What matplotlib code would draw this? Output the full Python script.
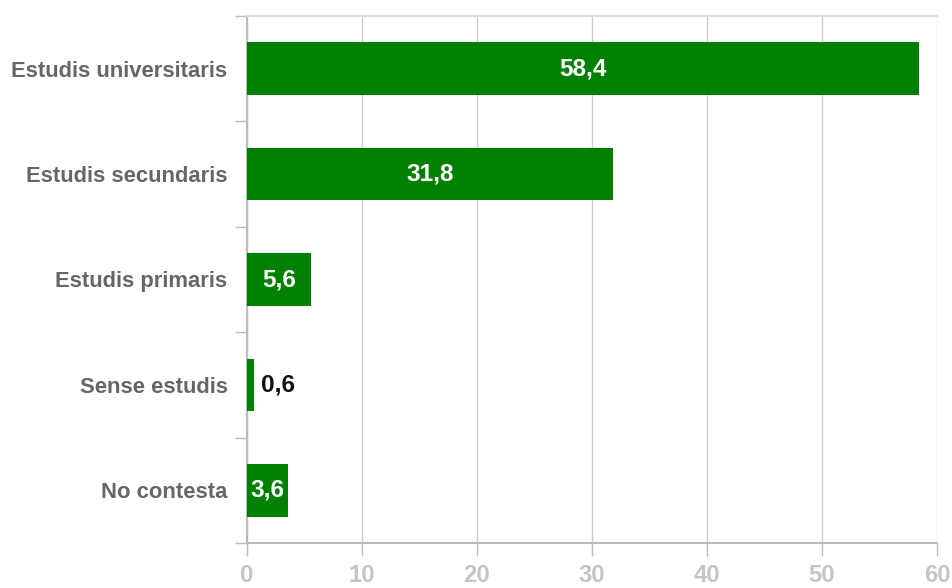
import matplotlib
matplotlib.use("Agg")
import matplotlib.pyplot as plt
import numpy as np

categories = ["Estudis universitaris", "Estudis secundaris", "Estudis primaris", "Sense estudis", "No contesta"]
values = [58.4, 31.8, 5.6, 0.6, 3.6]
value_labels = ["58,4", "31,8", "5,6", "0,6", "3,6"]
xticks = [0, 10, 20, 30, 40, 50, 60]

plt.rcParams['font.family'] = ['Liberation Sans', 'DejaVu Sans']

fig = plt.figure(figsize=(9.53, 5.88), dpi=100)
ax = fig.add_axes([247/953, 1-543/588, (937-247)/953, (543-16)/588])

n = len(categories)
ypos = np.arange(n)[::-1]
ax.barh(ypos, values, height=0.5, color="#008000", zorder=3)

ax.set_xlim(0, 60)
ax.set_ylim(-0.5, n-0.5)
ax.set_xticks(xticks)
ax.set_xticklabels([str(t) for t in xticks], fontsize=17.2, fontweight='bold', color="#c4c4c4")
ax.tick_params(axis='x', length=9, width=1, color="#bbbbbb", pad=6)

ax.set_yticks(ypos)
ax.set_yticklabels(categories, fontsize=15.8, fontweight='bold', color="#666666")
ax.tick_params(axis='y', which='major', length=0, pad=14)
ax.set_yticks(np.arange(n+1) - 0.5, minor=True)
ax.tick_params(axis='y', which='minor', length=9, width=1, color="#bbbbbb")

ax.grid(axis='x', color="#cccccc", linewidth=1, zorder=0)
ax.set_axisbelow(True)

for s in ['left', 'bottom']:
    ax.spines[s].set_color("#bbbbbb")
    ax.spines[s].set_linewidth(1.5)
ax.spines['top'].set_color("#dddddd")
ax.spines['top'].set_linewidth(1.5)
ax.spines['right'].set_visible(False)

for y, v, lab in zip(ypos, values, value_labels):
    if v >= 2:
        ax.text(v/2, y, lab, ha='center', va='center', fontsize=17.6,
                fontweight='bold', color='white', zorder=4)
    else:
        ax.text(v + 0.6, y, lab, ha='left', va='center', fontsize=17.6,
                fontweight='bold', color='#111111', zorder=4)

fig.savefig("out.png", dpi=100)
